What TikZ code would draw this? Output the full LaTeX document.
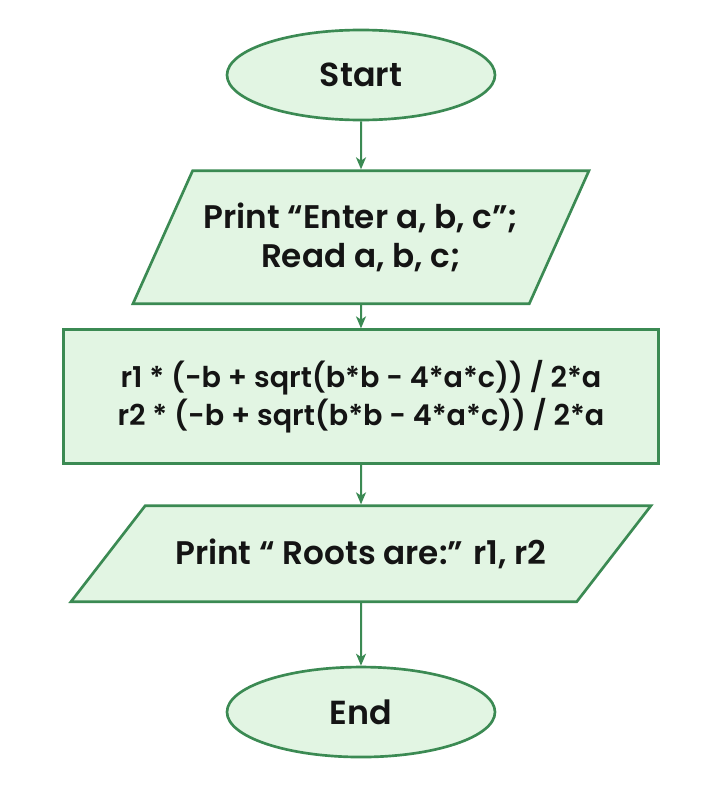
\documentclass[tikz,border=0pt]{standalone}
\usepackage{fontspec}
\setmainfont{Poppins SemiBold}
\usetikzlibrary{arrows.meta,positioning,shapes.geometric}
\definecolor{flowgreen}{HTML}{3B8A53}
\definecolor{flowfill}{HTML}{E2F5E3}
\definecolor{flowtext}{HTML}{141414}
\tikzset{
  terminal/.style={ellipse, draw=flowgreen, fill=flowfill, line width=2pt, text=flowtext, inner sep=0pt, minimum width=201pt, minimum height=67.5pt, font=\fontsize{25}{29}\selectfont},
  io/.style={trapezium, trapezium stretches body, draw=flowgreen, fill=flowfill, line width=2pt, text=flowtext, align=center, inner sep=0pt, font=\fontsize{24.5}{29}\selectfont},
  process/.style={rectangle, draw=flowgreen, fill=flowfill, line width=2pt, text=flowtext, align=center, inner sep=0pt, minimum width=446pt, minimum height=100.5pt, font=\fontsize{21.5}{29}\selectfont},
  line/.style={-{Stealth[length=9pt, width=7.5pt, inset=2.5pt]}, draw=flowgreen, line width=1.5pt}
}
\begin{document}
\begin{tikzpicture}[x=0.75pt, y=-0.75pt]
  \useasboundingbox (0,0) rectangle (720,785);
  \node[terminal] (start) at (361,75) {Start};
  \node[io, trapezium left angle=49, trapezium right angle=131, minimum width=342pt, minimum height=99.75pt, below=36pt of start] (input) {Print “Enter a, b, c”;\\Read a, b, c;};
  \node[process, below=17.5pt of input] (roots) {r1 * (-b + sqrt(b*b - 4*a*c)) / 2*a\\r2 * (-b + sqrt(b*b - 4*a*c)) / 2*a};
  \node[io, trapezium left angle=22, trapezium right angle=158, minimum width=435pt, minimum height=72pt, below=29.5pt of roots] (output) {Print “ Roots are:” r1, r2};
  \node[terminal, below=47pt of output] (end) {End};
  \draw[line] (start) -- (input);
  \draw[line] (input) -- (roots);
  \draw[line] (roots) -- (output);
  \draw[line] (output) -- (end);
\end{tikzpicture}
\end{document}
